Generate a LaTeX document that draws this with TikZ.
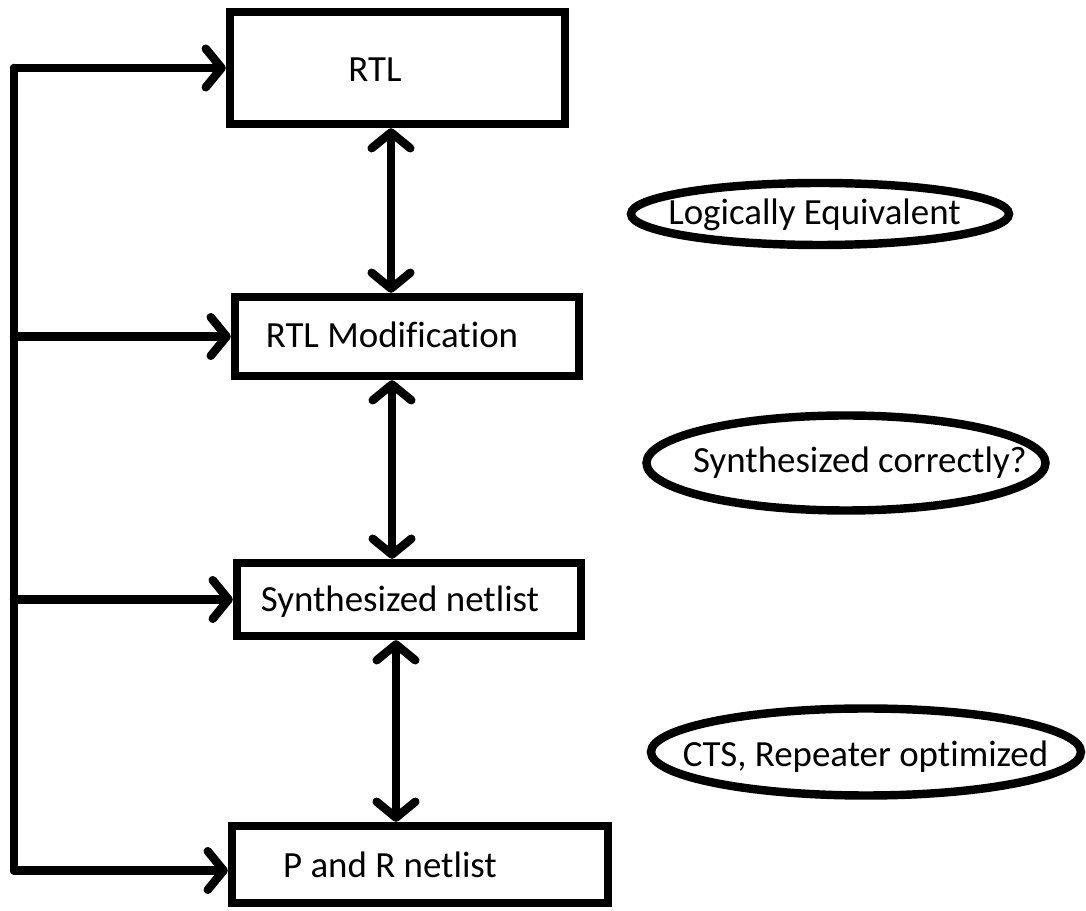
\documentclass[tikz,border=0pt]{standalone}
\usepackage{fontspec}
\setmainfont{Carlito}[Ligatures=NoCommon]
\usetikzlibrary{arrows.meta,shapes.geometric,calc}
\begin{document}
\begin{tikzpicture}[x=0.02cm,y=-0.02cm,
  line width=4.8pt,
  box/.style 2 args={draw, rectangle, inner sep=0pt,
    minimum width=#1*0.02cm, minimum height=#2*0.02cm},
  oval/.style 2 args={draw, ellipse, inner sep=0pt,
    minimum width=#1*0.02cm, minimum height=#2*0.02cm},
  lbl/.style={anchor=base, inner sep=0pt, font=\fontsize{21}{25}\selectfont},
  chev/.tip={Straight Barb[length=9pt,width=22pt,round]},
  arr/.style={-chev, line cap=round, line join=round},
  dbl/.style={chev-chev, line cap=round, line join=round}]

\fill[white] (0,0) rectangle (1086,911);
\useasboundingbox (0,0) rectangle (1086,911);

% flow boxes
\node[box={335}{112}] (b1) at (397.5,68) {};
\node[lbl] (t1) at (375,82) {RTL};
\node[box={344}{79}] (b2) at (407,336.5) {};
\node[lbl] (t2) at (392,348) {RTL Modification};
\node[box={344}{73}] (b3) at (409,599.5) {};
\node[lbl] (t3) at (400,612) {Synthesized netlist};
\node[box={376}{77}] (b4) at (420,864.5) {};
\node[lbl] (t4) at (390,878) {P and R netlist};

% check annotations
\node[oval={378}{62}] (e1) at (820,214) {};
\node[lbl] (s1) at (814.5,225) {Logically Equivalent};
\node[oval={399}{95}] (e2) at (846,463) {};
\node[lbl] (s2) at (860,473) {Synthesized correctly?};
\node[oval={430}{87}] (e3) at (866,752) {};
\node[lbl] (s3) at (865.5,767) {CTS, Repeater optimized};

% two-way links between stages
\coordinate (v1) at (391,0);
\coordinate (v2) at (392,0);
\coordinate (v3) at (396,0);
\draw[dbl] (b1.south -| v1) -- (b2.north -| v1);
\draw[dbl] (b2.south -| v2) -- (b3.north -| v2);
\draw[dbl] (b3.south -| v3) -- (b4.north -| v3);

% feedback bus on the left
\coordinate (fb) at (14,0);
\coordinate (p4) at ($(b4.west)+(0,6)$);
\draw[line cap=round, line join=round] (fb |- b1.west) -- (fb |- p4);
\draw[arr] (fb |- b1.west) -- (b1.west);
\draw[arr] (fb |- b2.west) -- (b2.west);
\draw[arr] (fb |- b3.west) -- (b3.west);
\draw[arr] (fb |- p4) -- (p4);
\end{tikzpicture}
\end{document}
